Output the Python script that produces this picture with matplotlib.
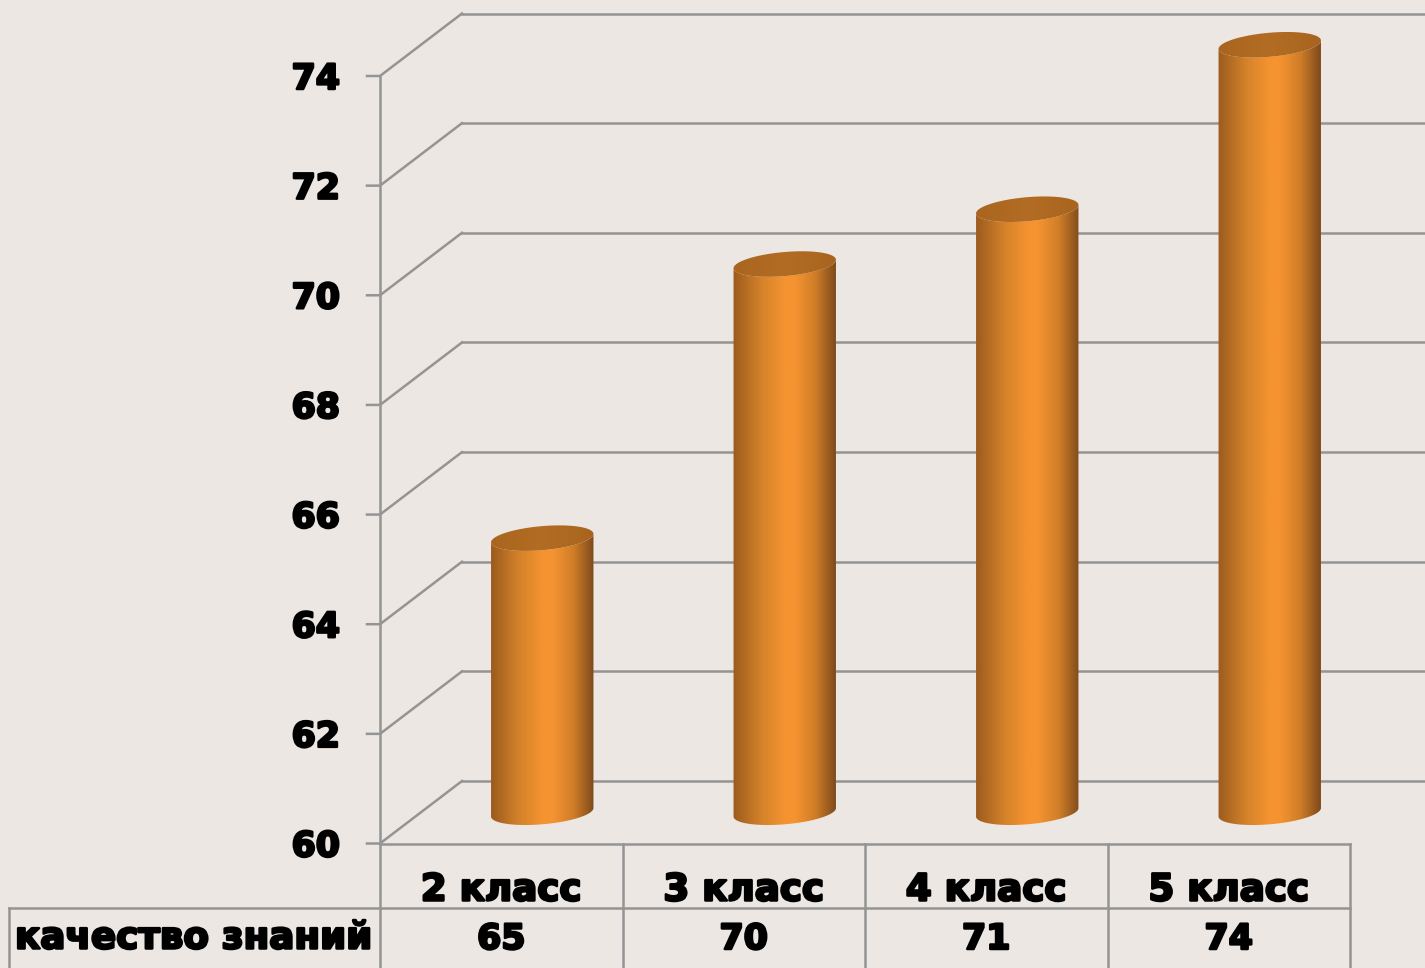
#!/usr/bin/env python3
import numpy as np
import matplotlib
matplotlib.use("Agg")
import matplotlib.pyplot as plt
import matplotlib.patheffects as pe
from matplotlib.colors import LinearSegmentedColormap
from matplotlib.patches import Polygon

# данные
categories = ["2 класс", "3 класс", "4 класс", "5 класс"]
values = [65, 70, 71, 74]
y_ticks = [60, 62, 64, 66, 68, 70, 72, 74]
row_label = "качество знаний"

BG = "#ECE7E3"
GRID = "#949494"
LW = 1.8

# масштаб в пикселях на единицу данных
W, H = 1425, 968
X0, SX = 380, 242.5
Y0, SY = 843.5, (843.5 - 76) / 14.0
DEPTH_X = 82 / SX
DEPTH_Y = 62.5 / SY


def px(x):
    return (x - X0) / SX


def py(y):
    return 60 + (Y0 - y) / SY


fig = plt.figure(figsize=(W / 100, H / 100), dpi=100, facecolor=BG)
ax = fig.add_axes([0, 0, 1, 1])
ax.axis("off")

# стены: диагонали, задние линии сетки, засечки
for v in y_ticks:
    ax.plot([px(367), 0, DEPTH_X], [v, v, v + DEPTH_Y], color=GRID, lw=LW, zorder=1, solid_joinstyle="miter")
    ax.plot([DEPTH_X, px(W)], [v + DEPTH_Y, v + DEPTH_Y], color=GRID, lw=LW, zorder=1)

# таблица
n = len(categories)
row1 = py(907.5)
ax.plot([0, 0], [py(H), max(y_ticks)], color=GRID, lw=LW, zorder=1)
ax.plot([0, n], [60, 60], color=GRID, lw=LW, zorder=1)
ax.plot([px(9), n], [row1, row1], color=GRID, lw=LW, zorder=1)
ax.plot([px(9), px(9)], [row1, py(H)], color=GRID, lw=LW, zorder=1)
for i in range(1, n + 1):
    ax.plot([i, i], [60, py(H)], color=GRID, lw=LW, zorder=1)

# цилиндры
body_cmap = LinearSegmentedColormap.from_list(
    "body",
    [(0, "#9C5B1E"), (0.28, "#D5832A"), (0.5, "#F59331"), (0.6, "#F59331"),
     (0.8, "#D07E28"), (1, "#7E4A1B")],
)
top_cmap = LinearSegmentedColormap.from_list("top", ["#A9651F", "#B36C23", "#A8641F"])
half_w = 51.5 / SX
tilt = np.radians(5)
t = np.linspace(0, 2 * np.pi, 181)
grad = np.linspace(0, 1, 256).reshape(1, -1)


def ellipse(cx, cy, th):
    # эллипс наклонён в пикселях, затем переводится в единицы данных
    ex = 51.4 * np.cos(th) * np.cos(tilt) + 12 * np.sin(th) * np.sin(tilt)
    ey = 51.4 * np.cos(th) * np.sin(tilt) - 12 * np.sin(th) * np.cos(tilt)
    return cx + ex / SX, cy + ey / SY


for i, v in enumerate(values):
    cx = i + 0.5 + DEPTH_X / 2
    top_y = v + DEPTH_Y / 2
    base_y = 60 + DEPTH_Y / 2
    # боковая поверхность: нижняя дуга основания и нижняя дуга верха
    th = np.linspace(0, np.pi, 91)
    bx, by = ellipse(cx, base_y, th)
    tx, ty = ellipse(cx, top_y, th[::-1])
    body = Polygon(np.column_stack([np.r_[bx, tx], np.r_[by, ty]]), closed=True,
                   transform=ax.transData, fc="none", ec="none")
    ax.add_patch(body)
    im = ax.imshow(grad, cmap=body_cmap, aspect="auto", zorder=2, interpolation="bilinear",
                   extent=[cx - half_w, cx + half_w, base_y - 1, top_y + 1])
    im.set_clip_path(body)
    ex, ey = ellipse(cx, top_y, t)
    lid = Polygon(np.column_stack([ex, ey]), closed=True, transform=ax.transData, fc="none", ec="none")
    ax.add_patch(lid)
    im2 = ax.imshow(grad, cmap=top_cmap, aspect="auto", zorder=3, interpolation="bilinear",
                    extent=[cx - half_w, cx + half_w, top_y - 1, top_y + 1])
    im2.set_clip_path(lid)

ax.set_xlim(px(0), px(W))
ax.set_ylim(py(H), py(0))

# подписи
heavy = [pe.withStroke(linewidth=1.8, foreground="black")]
font = dict(family="DejaVu Sans", fontweight="bold", color="black", path_effects=heavy, zorder=5)
for v in y_ticks:
    ax.text(px(340), v - 3 / SY, str(v), ha="right", va="center", fontsize=25, **font)
for i, c in enumerate(categories):
    ax.text(i + 0.5, py(890), c, ha="center", va="center", fontsize=26.8, **font)
    ax.text(i + 0.5, py(939), str(values[i]), ha="center", va="center", fontsize=25, **font)
ax.text(px(15), py(938), row_label, ha="left", va="center", fontsize=26.8, **font)

fig.savefig("out.png", dpi=100, facecolor=BG)
